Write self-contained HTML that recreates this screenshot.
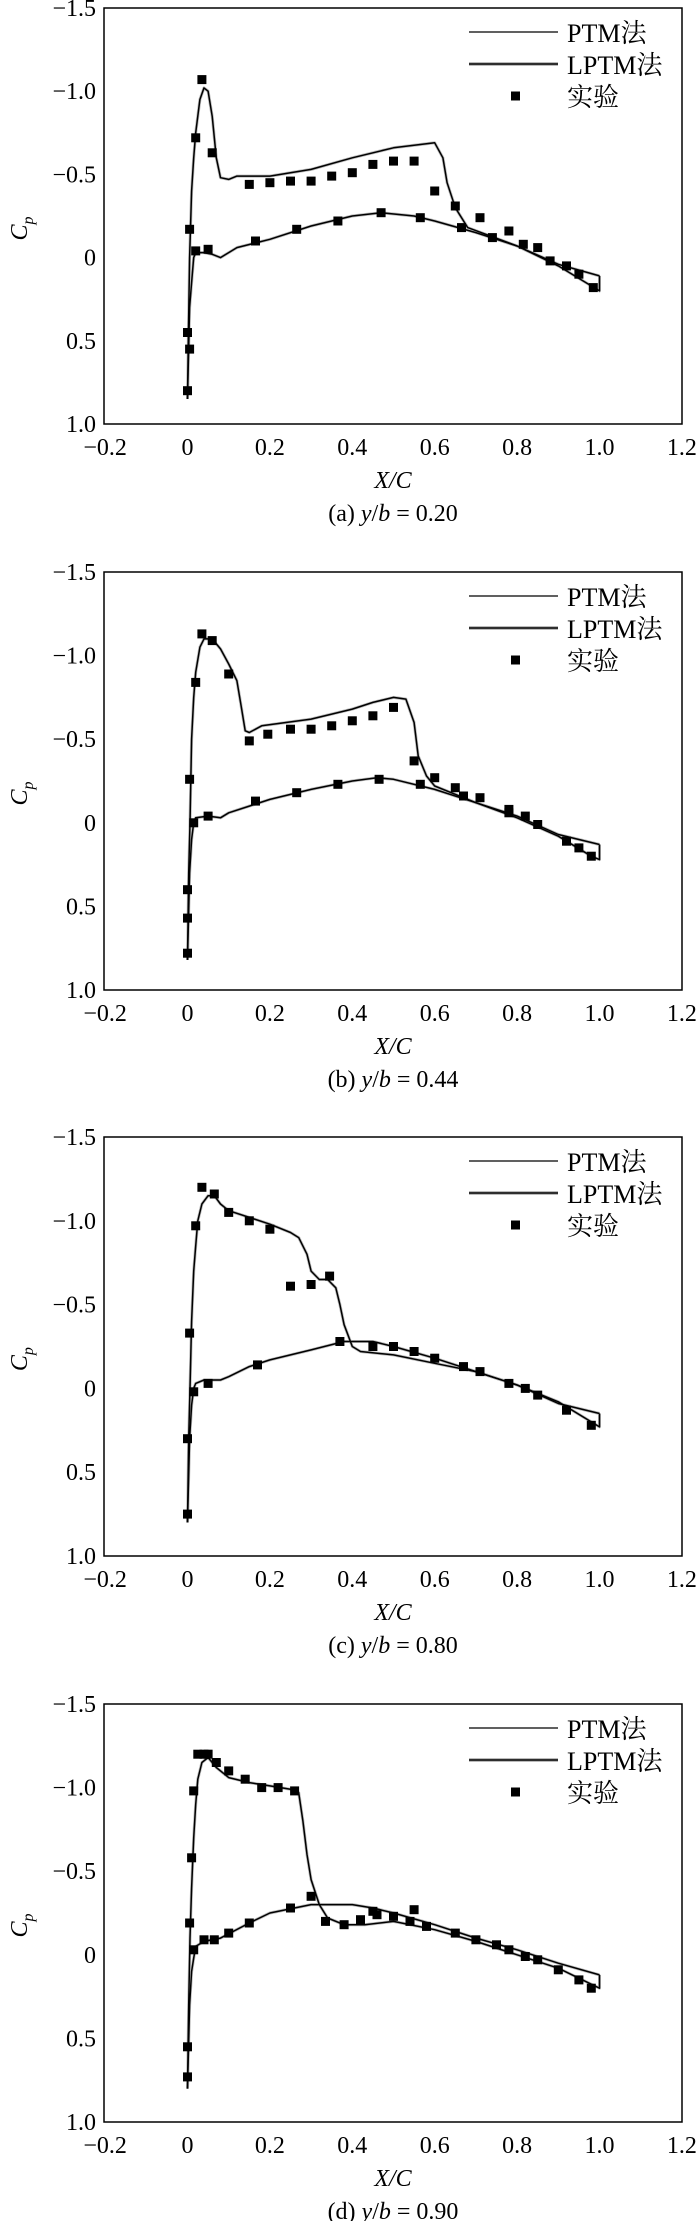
<!DOCTYPE html>
<html><head><meta charset="utf-8">
<style>
html,body{margin:0;padding:0;background:#fff;overflow:hidden;}
svg{display:block;}
text{font-family:"Liberation Serif","Noto Serif CJK SC","Noto Sans CJK SC",serif;fill:#000;}
</style></head>
<body>
<svg id="s" width="700" height="2221" xmlns="http://www.w3.org/2000/svg"></svg>
<script>
var panels=[
{top:8,bot:424,cap:"(a) ",yb:"0.20",
up:[[0,0.85],[0.002,0.5],[0.005,0],[0.01,-0.4],[0.015,-0.6],[0.02,-0.75],[0.03,-0.95],[0.04,-1.02],[0.05,-1.0],[0.06,-0.85],[0.07,-0.6],[0.08,-0.48],[0.1,-0.47],[0.12,-0.49],[0.2,-0.49],[0.3,-0.53],[0.4,-0.6],[0.5,-0.66],[0.6,-0.69],[0.62,-0.6],[0.63,-0.45],[0.65,-0.3],[0.68,-0.18],[0.8,-0.07],[0.9,0.05],[1.0,0.2],[1.0,0.11]],
lo:[[0,0.85],[0.005,0.3],[0.01,0.15],[0.015,0],[0.02,-0.03],[0.04,-0.03],[0.06,-0.02],[0.08,0],[0.1,-0.03],[0.12,-0.06],[0.2,-0.11],[0.3,-0.19],[0.4,-0.25],[0.47,-0.27],[0.55,-0.25],[0.6,-0.22],[0.7,-0.15],[0.8,-0.07],[0.9,0.04],[1.0,0.11]],
ex:[[0.035,-1.07],[0.02,-0.72],[0.06,-0.63],[0.15,-0.44],[0.2,-0.45],[0.25,-0.46],[0.3,-0.46],[0.35,-0.49],[0.4,-0.51],[0.45,-0.56],[0.5,-0.58],[0.55,-0.58],[0.6,-0.4],[0.65,-0.31],[0.71,-0.24],[0.78,-0.16],[0.815,-0.08],[0.85,-0.06],[0.88,0.02],[0.92,0.05],[0.95,0.1],[0.985,0.18],[0.005,-0.17],[0.02,-0.04],[0.05,-0.05],[0.165,-0.1],[0.265,-0.17],[0.365,-0.22],[0.47,-0.27],[0.565,-0.24],[0.665,-0.18],[0.74,-0.12],[0,0.45],[0.005,0.55],[0,0.8]]},
{top:572,bot:990,cap:"(b) ",yb:"0.44",
up:[[0,0.82],[0.003,0.3],[0.006,0],[0.01,-0.5],[0.015,-0.75],[0.02,-0.9],[0.03,-1.05],[0.04,-1.1],[0.06,-1.1],[0.08,-1.04],[0.1,-0.95],[0.12,-0.85],[0.13,-0.7],[0.14,-0.55],[0.15,-0.54],[0.18,-0.58],[0.3,-0.62],[0.4,-0.68],[0.45,-0.72],[0.5,-0.75],[0.53,-0.74],[0.55,-0.6],[0.56,-0.4],[0.58,-0.28],[0.6,-0.22],[0.7,-0.12],[0.8,-0.03],[0.9,0.08],[0.98,0.2],[1.0,0.22],[1.0,0.13]],
lo:[[0,0.82],[0.005,0.3],[0.01,0.1],[0.015,0],[0.02,-0.03],[0.05,-0.04],[0.08,-0.03],[0.1,-0.06],[0.15,-0.1],[0.2,-0.14],[0.3,-0.2],[0.4,-0.25],[0.46,-0.27],[0.5,-0.26],[0.6,-0.2],[0.7,-0.12],[0.8,-0.04],[0.9,0.07],[1.0,0.13]],
ex:[[0.035,-1.13],[0.06,-1.09],[0.1,-0.89],[0.02,-0.84],[0.15,-0.49],[0.195,-0.53],[0.25,-0.56],[0.3,-0.56],[0.35,-0.58],[0.4,-0.61],[0.45,-0.64],[0.5,-0.69],[0.55,-0.37],[0.6,-0.27],[0.65,-0.21],[0.67,-0.16],[0.71,-0.15],[0.78,-0.08],[0.78,-0.06],[0.82,-0.04],[0.85,0.01],[0.92,0.11],[0.95,0.15],[0.98,0.2],[0.005,-0.26],[0.015,0],[0.05,-0.04],[0.165,-0.13],[0.265,-0.18],[0.365,-0.23],[0.465,-0.26],[0.565,-0.23],[0,0.4],[0,0.57],[0,0.78]]},
{top:1137,bot:1556,cap:"(c) ",yb:"0.80",
up:[[0,0.8],[0.003,0.3],[0.006,0],[0.01,-0.4],[0.015,-0.7],[0.02,-0.85],[0.025,-1.0],[0.035,-1.1],[0.05,-1.15],[0.065,-1.15],[0.08,-1.1],[0.1,-1.06],[0.15,-1.02],[0.2,-0.98],[0.25,-0.93],[0.27,-0.9],[0.29,-0.8],[0.3,-0.7],[0.32,-0.65],[0.34,-0.65],[0.36,-0.6],[0.37,-0.5],[0.38,-0.38],[0.4,-0.25],[0.42,-0.22],[0.5,-0.2],[0.6,-0.15],[0.7,-0.1],[0.8,-0.02],[0.9,0.08],[1.0,0.23],[1.0,0.15]],
lo:[[0,0.8],[0.005,0.3],[0.01,0.1],[0.015,0],[0.02,-0.03],[0.04,-0.05],[0.08,-0.05],[0.1,-0.07],[0.15,-0.13],[0.2,-0.17],[0.3,-0.23],[0.38,-0.28],[0.45,-0.28],[0.5,-0.25],[0.6,-0.18],[0.7,-0.1],[0.8,-0.02],[0.9,0.09],[1.0,0.15]],
ex:[[0.035,-1.2],[0.065,-1.16],[0.1,-1.05],[0.02,-0.97],[0.15,-1.0],[0.2,-0.95],[0.25,-0.61],[0.3,-0.62],[0.345,-0.67],[0.005,-0.33],[0.015,0.02],[0.05,-0.03],[0.17,-0.14],[0.37,-0.28],[0.45,-0.25],[0.5,-0.25],[0.55,-0.22],[0.6,-0.18],[0.67,-0.13],[0.71,-0.1],[0.78,-0.03],[0.82,0.0],[0.85,0.04],[0.92,0.13],[0.98,0.22],[0,0.3],[0,0.75]]},
{top:1704,bot:2122,cap:"(d) ",yb:"0.90",
up:[[0,0.8],[0.003,0.3],[0.006,-0.1],[0.01,-0.4],[0.015,-0.7],[0.02,-0.9],[0.025,-1.05],[0.035,-1.15],[0.05,-1.18],[0.07,-1.12],[0.1,-1.06],[0.15,-1.03],[0.2,-1.01],[0.25,-0.99],[0.27,-0.97],[0.28,-0.8],[0.29,-0.6],[0.3,-0.45],[0.32,-0.3],[0.34,-0.22],[0.38,-0.18],[0.43,-0.18],[0.5,-0.2],[0.6,-0.15],[0.7,-0.08],[0.8,0.0],[0.9,0.08],[1.0,0.2],[1.0,0.12]],
lo:[[0,0.8],[0.005,0.3],[0.01,0.1],[0.015,0.02],[0.02,-0.05],[0.04,-0.08],[0.08,-0.1],[0.15,-0.19],[0.2,-0.25],[0.3,-0.3],[0.4,-0.3],[0.45,-0.28],[0.5,-0.25],[0.6,-0.18],[0.7,-0.1],[0.8,-0.03],[0.9,0.05],[1.0,0.12]],
ex:[[0.025,-1.2],[0.04,-1.2],[0.05,-1.2],[0.07,-1.15],[0.1,-1.1],[0.14,-1.05],[0.18,-1.0],[0.22,-1.0],[0.26,-0.98],[0.015,-0.98],[0.01,-0.58],[0.005,-0.19],[0.015,-0.03],[0.04,-0.09],[0.065,-0.09],[0.1,-0.13],[0.15,-0.19],[0.25,-0.28],[0.3,-0.35],[0.335,-0.2],[0.38,-0.18],[0.42,-0.21],[0.45,-0.26],[0.46,-0.24],[0.5,-0.23],[0.55,-0.27],[0.54,-0.2],[0.58,-0.17],[0.65,-0.13],[0.7,-0.09],[0.75,-0.06],[0.78,-0.03],[0.82,0.01],[0.85,0.03],[0.9,0.09],[0.95,0.15],[0.98,0.2],[0,0.73],[0,0.55]]}
];
var L=104,R=682,X0=187.5,XS=412;
var h='';
panels.forEach(function(p){
  var T=p.top,B=p.bot,ys=(B-T)/2.5;
  function fx(x){return X0+XS*x;}
  function fy(c){return T+(c+1.5)*ys;}
  h+='<rect x="'+L+'" y="'+T+'" width="'+(R-L)+'" height="'+(B-T)+'" fill="none" stroke="#000" stroke-width="1.5"/>';
  var yl=['\u22121.5','\u22121.0','\u22120.5','0','0.5','1.0'];
  for(var i=0;i<6;i++){var yy=T+i*ys*0.5;h+='<text x="96" y="'+(yy+8).toFixed(1)+'" font-size="24" text-anchor="end">'+yl[i]+'</text>';}
  var xl=['\u22120.2','0','0.2','0.4','0.6','0.8','1.0','1.2'];
  for(var i=0;i<8;i++){var xx=X0+(i-1)*0.2*XS;h+='<text x="'+xx.toFixed(1)+'" y="'+(B+31)+'" font-size="24" text-anchor="middle">'+xl[i]+'</text>';}
  h+='<text x="'+((L+R)/2)+'" y="'+(B+64)+'" font-size="24" font-style="italic" text-anchor="middle">X/C</text>';
  h+='<text x="'+((L+R)/2)+'" y="'+(B+97)+'" font-size="24" text-anchor="middle">'+p.cap+'<tspan font-style="italic">y</tspan>/<tspan font-style="italic">b</tspan> = '+p.yb+'</text>';
  var cy=T+(B-T)*0.53;
  h+='<text transform="translate(27,'+cy+') rotate(-90)" font-size="24" font-style="italic" text-anchor="middle">C<tspan font-size="16" dy="6">p</tspan></text>';
  function pl(a,w,c){return '<polyline fill="none" stroke="'+c+'" stroke-width="'+w+'" stroke-linejoin="round" points="'+a.map(function(q){return fx(q[0]).toFixed(1)+','+fy(q[1]).toFixed(1);}).join(' ')+'"/>';}
  h+=pl(p.up,3,'#bbb')+pl(p.lo,3,'#bbb')+pl(p.up,1.5,'#000')+pl(p.lo,1.5,'#000');
  p.ex.forEach(function(q){h+='<rect x="'+(fx(q[0])-4.5).toFixed(1)+'" y="'+(fy(q[1])-4.5).toFixed(1)+'" width="9" height="9" fill="#000"/>';});
  var ly=T+24;
  h+='<line x1="469" x2="558" y1="'+ly+'" y2="'+ly+'" stroke="#000" stroke-width="1.3"/>';
  h+='<text x="567" y="'+(ly+10)+'" font-size="26">PTM法</text>';
  ly=T+56;
  h+='<line x1="469" x2="558" y1="'+ly+'" y2="'+ly+'" stroke="#bbb" stroke-width="4"/><line x1="469" x2="558" y1="'+ly+'" y2="'+ly+'" stroke="#000" stroke-width="1.6"/>';
  h+='<text x="567" y="'+(ly+10)+'" font-size="26">LPTM法</text>';
  ly=T+88;
  h+='<rect x="511" y="'+(ly-4.5)+'" width="9" height="9" fill="#000"/>';
  h+='<text x="567" y="'+(ly+10)+'" font-size="26">实验</text>';
});
document.getElementById('s').innerHTML=h;
</script>
</body></html>
